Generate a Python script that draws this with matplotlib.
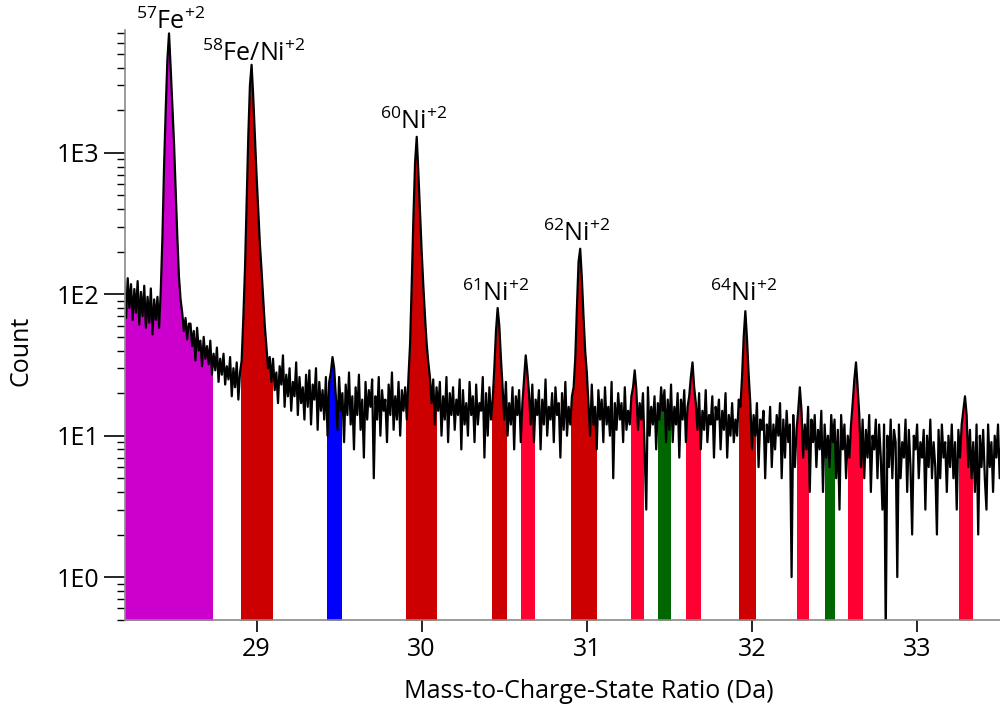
import numpy as np
import matplotlib
matplotlib.use('Agg')
import matplotlib.pyplot as plt
from matplotlib.patches import Rectangle
from matplotlib.ticker import LogLocator, FixedLocator, FuncFormatter, NullFormatter

plt.rcParams['font.family'] = ['Open Sans', 'DejaVu Sans']
plt.rcParams['mathtext.default'] = 'regular'

# mass spectrum, counts per 0.01 Da bin starting at 28.20 Da
x_start = 28.20
bin_width = 0.01
counts = [
    122, 68, 130, 80, 118, 66, 109, 74, 124, 61,         # 28.2
    104, 70, 115, 58, 96, 63, 110, 52, 92, 66,           # 28.3
    96, 58, 105, 250, 800, 2000, 4500, 7000, 4000, 2200, # 28.4
    1200, 560, 260, 135, 92, 74, 55, 68, 48, 62,         # 28.5
    62, 43, 55, 34, 58, 40, 47, 31, 50, 35,              # 28.6
    43, 32, 47, 27, 38, 29, 42, 24, 35, 27,              # 28.7
    38, 23, 31, 25, 36, 19, 30, 22, 33, 18,              # 28.8
    28, 34, 68, 150, 450, 1300, 3000, 4200, 2500, 1300,  # 28.9
    700, 400, 230, 150, 95, 60, 42, 30, 36, 24,          # 29.0
    35, 21, 28, 17, 31, 23, 37, 16, 27, 19,              # 29.1
    30, 15, 24, 19, 33, 14, 26, 17, 22, 13,              # 29.2
    27, 16, 29, 12, 23, 18, 30, 11, 24, 15,              # 29.3
    21, 13, 26, 10, 24, 28, 36, 30, 19, 11,              # 29.4
    26, 15, 20, 9, 23, 14, 28, 12, 19, 8,                # 29.5
    22, 14, 27, 11, 18, 7, 24, 13, 21, 16,               # 29.6
    25, 5, 19, 13, 26, 10, 21, 15, 18, 9,                # 29.7
    23, 14, 28, 11, 19, 13, 24, 10, 21, 15,              # 29.8
    22, 13, 26, 45, 120, 350, 850, 1300, 720, 380,       # 29.9
    200, 115, 70, 45, 33, 26, 17, 25, 12, 22,            # 30.0
    15, 24, 10, 19, 13, 26, 9, 20, 14, 22,               # 30.1
    11, 18, 14, 25, 8, 21, 12, 17, 10, 24,               # 30.2
    14, 19, 9, 23, 12, 17, 15, 26, 7, 20,                # 30.3
    10, 22, 13, 18, 30, 55, 80, 60, 35, 22,              # 30.4
    13, 24, 10, 17, 12, 22, 8, 19, 14, 21,               # 30.5
    9, 17, 25, 37, 28, 20, 12, 23, 9, 18,                # 30.6
    14, 21, 8, 18, 12, 25, 10, 16, 13, 20,               # 30.7
    9, 22, 14, 17, 7, 20, 11, 24, 10, 16,                # 30.8
    12, 19, 22, 35, 80, 170, 210, 130, 70, 40,           # 30.9
    28, 17, 10, 23, 12, 16, 8, 21, 13, 18,               # 31.0
    9, 22, 12, 16, 10, 24, 5, 17, 11, 20,                # 31.1
    13, 17, 9, 22, 11, 15, 12, 19, 22, 29,               # 31.2
    21, 11, 17, 13, 20, 8, 3, 22, 10, 16,                # 31.3
    12, 19, 8, 17, 13, 22, 15, 21, 9, 18,                # 31.4
    11, 23, 9, 16, 12, 20, 7, 18, 13, 21,                # 31.5
    9, 16, 19, 26, 33, 22, 17, 11, 20, 8,                # 31.6
    15, 11, 21, 9, 14, 12, 19, 7, 16, 13,                # 31.7
    18, 8, 15, 11, 20, 7, 14, 10, 17, 9,                 # 31.8
    13, 10, 18, 16, 26, 50, 76, 48, 27, 17,              # 31.9
    8, 14, 10, 17, 6, 13, 11, 15, 5, 12,                 # 32.0
    9, 16, 6, 12, 8, 14, 10, 17, 5, 13,                  # 32.1
    7, 15, 9, 12, 1, 14, 6, 11, 15, 22,                  # 32.2
    15, 7, 12, 8, 16, 4, 13, 9, 14, 6,                   # 32.3
    11, 8, 15, 4, 12, 7, 10, 6, 14, 9,                   # 32.4
    13, 5, 11, 3, 14, 8, 12, 5, 10, 7,                   # 32.5
    12, 17, 25, 33, 22, 14, 6, 13, 5, 11,                # 32.6
    7, 14, 4, 10, 8, 13, 5, 12, 7, 3,                    # 32.7
    12, 0.4, 10, 6, 13, 5, 11, 9, 1, 12,                 # 32.8
    5, 9, 7, 13, 4, 11, 6, 2, 10, 8,                     # 32.9
    12, 5, 9, 7, 11, 3, 10, 6, 13, 5,                    # 33.0
    9, 6, 2, 11, 5, 12, 7, 9, 4, 10,                     # 33.1
    6, 12, 5, 9, 3, 11, 7, 12, 15, 19,                   # 33.2
    14, 6, 11, 5, 9, 4, 12, 2, 10, 6,                    # 33.3
    11, 5, 3, 12, 6, 9, 4, 10, 7, 12,                    # 33.4
    5, 9, 6,                                             # 33.5
]

# ranged ions (Da)
range_lo = [28.20, 28.906, 29.424, 29.903, 30.425, 30.602, 30.904, 31.267,
            31.429, 31.603, 31.919, 32.271, 32.441, 32.584, 33.252]
range_hi = [28.730, 29.094, 29.509, 30.085, 30.509, 30.683, 31.058, 31.340,
            31.502, 31.684, 32.016, 32.337, 32.495, 32.669, 33.334]
range_color = ['#CC00CC', '#CC0000', '#0000FF', '#CC0000', '#CC0000', '#FF0033',
               '#CC0000', '#FF0033', '#006600', '#FF0033', '#CC0000', '#FF0033',
               '#006600', '#FF0033', '#FF0033']

# peak labels
label_text = [r'$^{57}$Fe$^{+2}$', r'$^{58}$Fe/Ni$^{+2}$', r'$^{60}$Ni$^{+2}$',
              r'$^{61}$Ni$^{+2}$', r'$^{62}$Ni$^{+2}$', r'$^{64}$Ni$^{+2}$']
label_x = [28.482, 28.985, 29.954, 30.451, 30.941, 31.947]
label_y = [7550, 4490, 1486, 90, 240, 90]

xticks = [29, 30, 31, 32, 33]
yticks = [1, 10, 100, 1000]
ytick_labels = ['1E0', '1E1', '1E2', '1E3']

x = x_start + bin_width*np.arange(len(counts))
y = np.array(counts, dtype=float)
xmin, xmax = 28.2035, 33.502
ybot, ytop = 0.497, 7400

fig = plt.figure(figsize=(10, 7.08), dpi=100)
ax = fig.add_axes([0.125, 0.1243, 0.875, 0.8333])
ax.set_yscale('log')

#--------------------------coloured ranges under the spectrum-----------------#
for lo, hi, c in zip(range_lo, range_hi, range_color):
    poly = ax.fill_between(x, ybot, y, color=c, lw=0, zorder=1)
    lo = max(lo, xmin)
    clip = Rectangle((lo, ybot), hi-lo, ytop-ybot, transform=ax.transData)
    poly.set_clip_path(clip)

ax.plot(x, y, color='black', lw=1.6, zorder=2)

for t, lx, ly in zip(label_text, label_x, label_y):
    ax.text(lx, ly, t, ha='center', va='baseline', fontsize=18, clip_on=False)

ax.set_xlim(xmin, xmax)
ax.set_ylim(ybot, ytop)

ax.spines['top'].set_visible(False)
ax.spines['right'].set_visible(False)
for s in ['left', 'bottom']:
    ax.spines[s].set_color('#8a8a8a')
    ax.spines[s].set_linewidth(1.2)

ax.xaxis.set_major_locator(FixedLocator(xticks))
ax.xaxis.set_major_formatter(FuncFormatter(lambda v, p: '%d' % v))
ax.yaxis.set_major_locator(FixedLocator(yticks))
ax.yaxis.set_major_formatter(FuncFormatter(lambda v, p: ytick_labels[yticks.index(int(round(v)))] if int(round(v)) in yticks else ''))
ax.yaxis.set_minor_locator(LogLocator(base=10, subs=np.arange(2, 10), numticks=20))
ax.yaxis.set_minor_formatter(NullFormatter())

ax.tick_params(axis='x', which='major', length=8.6, width=1.2, direction='out', pad=3.5, labelsize=18)
ax.tick_params(axis='y', which='major', length=15, width=1.2, direction='out', pad=3.5, labelsize=18)
ax.tick_params(axis='y', which='minor', length=6, width=1.0, direction='out')

ax.set_xlabel('Mass-to-Charge-State Ratio (Da)', fontsize=18)
ax.set_ylabel('Count', fontsize=18)
ax.xaxis.set_label_coords(0.53, -0.10)
ax.yaxis.set_label_coords(-0.105, 0.456)

fig.savefig('out.png', dpi=100)
